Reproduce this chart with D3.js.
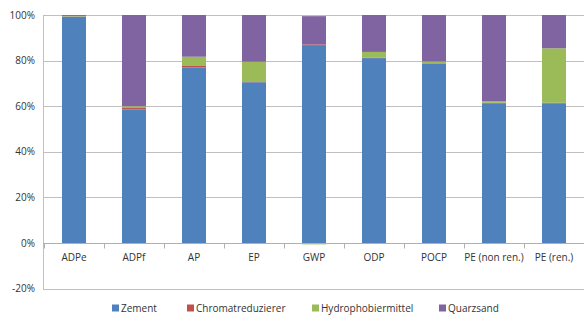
<!DOCTYPE html>
<html><head><meta charset="utf-8">
<script src="https://cdn.jsdelivr.net/npm/d3@7"></script>
<style>body{margin:0;background:#fff}svg{display:block}text{font-family:"Open Sans",sans-serif;fill:#333}</style>
</head><body><svg id="c" width="584" height="315"></svg>
<script>
const categories = ["ADPe","ADPf","AP","EP","GWP","ODP","POCP","PE (non ren.)","PE (ren.)"];
const seriesNames = ["Zement","Chromatreduzierer","Hydrophobiermittel","Quarzsand"];
const zement = [99.3, 58.5, 77.0, 70.5, 86.8, 81.1, 78.5, 61.3, 61.3];
const chromat = [0.1, 0.7, 0.9, 0.1, 0.3, 0.1, 0.3, 0.2, 0.2];
const hydro = [0.2, 0.8, 3.8, 8.9, -0.6, 2.6, 0.8, 0.6, 23.9];
const quarz = [0.4, 40.0, 18.3, 20.5, 12.4, 16.2, 20.4, 37.9, 14.6];
const yTicks = [-20, 0, 20, 40, 60, 80, 100];
const colors = ["#4F81BD","#C0504D","#9BBB59","#8064A2"];

const series = [zement, chromat, hydro, quarz];
const svg = d3.select("#c");
const x = d3.scaleBand().domain(categories).range([44, 584]).paddingInner(0.6).paddingOuter(0.3);
const y = d3.scaleLinear().domain([-20, 100]).range([288.6, 15]);

// gridlines
svg.append("g").selectAll("line").data(yTicks).join("line")
  .attr("x1", 43).attr("x2", 584).attr("y1", d => Math.round(y(d)) + 0.5).attr("y2", d => Math.round(y(d)) + 0.5)
  .attr("stroke", "#c0c0c0").attr("stroke-width", 1);
// y axis line
svg.append("line").attr("x1", 43.5).attr("x2", 43.5).attr("y1", y(100)).attr("y2", y(-20)+1)
  .attr("stroke", "#c0c0c0");
// y labels
svg.append("g").selectAll("text").data(yTicks).join("text")
  .attr("x", 35).attr("y", d => y(d) + 3.5).attr("text-anchor", "end").attr("font-size", 10)
  .text(d => d + "%");

// bars
categories.forEach((c, i) => {
  let pos = 0, neg = 0;
  series.forEach((s, k) => {
    const v = s[i];
    let y0, y1;
    if (v >= 0) { y0 = pos; y1 = pos + v; pos = y1; } else { y0 = neg + v; y1 = neg; neg = y0; }
    svg.append("rect").attr("x", x(c)).attr("width", x.bandwidth())
      .attr("y", y(y1)).attr("height", Math.max(0, y(y0) - y(y1)))
      .attr("fill", colors[k]);
  });
});

// zero axis with ticks
const z = Math.round(y(0)) + 0.5;
svg.append("line").attr("x1", 43).attr("x2", 584).attr("y1", z).attr("y2", z).attr("stroke", "#b0b0b0");
const step = x.step();
const bounds = d3.range(categories.length + 1).map(i => 44 + i * step);
svg.append("g").selectAll("line").data(bounds).join("line")
  .attr("x1", d => Math.round(d) + 0.5).attr("x2", d => Math.round(d) + 0.5)
  .attr("y1", z).attr("y2", z + 5).attr("stroke", "#b0b0b0");
// category labels
svg.append("g").selectAll("text").data(categories).join("text")
  .attr("x", d => x(d) + x.bandwidth() / 2).attr("y", 261).attr("text-anchor", "middle")
  .attr("font-size", 10).text(d => d);

// legend
const legX = [112, 187, 312, 439];
const lg = svg.append("g").selectAll("g").data(seriesNames).join("g")
  .attr("transform", (d, i) => `translate(${legX[i]},303)`);
lg.append("rect").attr("width", 7).attr("height", 7).attr("y", 1.5).attr("fill", (d, i) => colors[i]);
lg.append("text").attr("x", 9).attr("y", 9).attr("font-size", 10).text(d => d);
</script></body></html>
